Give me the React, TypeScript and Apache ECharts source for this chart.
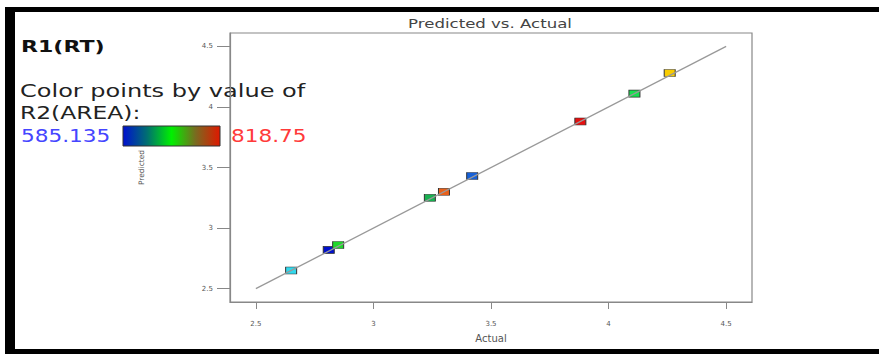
import React, { useEffect, useRef } from "react";
import * as echarts from "echarts";

const actual = [2.65, 2.81, 2.85, 3.24, 3.3, 3.42, 3.88, 4.11, 4.26];
const predicted = [2.65, 2.82, 2.86, 3.25, 3.3, 3.43, 3.88, 4.11, 4.28];
const pointColors = ["#33d8ec", "#0010cc", "#1ed82a", "#18b050", "#e8601a", "#1660d8", "#e61010", "#18e050", "#f8cc00"];
const tickValues = [2.5, 3, 3.5, 4, 4.5];
const fitLine = [[2.5, 2.5], [4.5, 4.5]];
const areaMin = "585.135";
const areaMax = "818.75";

export default function App() {
  const ref = useRef<HTMLDivElement>(null);
  useEffect(() => {
    document.body.style.margin = "0";
    const chart = echarts.init(ref.current!, null, { renderer: "svg" });
    const tickFont = { fontSize: 7, color: "#555", fontFamily: "DejaVu Sans" };
    chart.setOption({
      animation: false,
      backgroundColor: "#fff",
      grid: { left: 230, top: 33, width: 522, height: 269, show: true, borderColor: "#888", borderWidth: 1.2, containLabel: false },
      xAxis: {
        type: "value",
        min: 2.39,
        max: 4.61,
        name: "Actual",
        nameLocation: "middle",
        nameGap: 31,
        nameTextStyle: { fontSize: 10, color: "#555", fontFamily: "DejaVu Sans" },
        axisLine: { show: true, lineStyle: { color: "#888", width: 1.2 } },
        axisTick: { show: true, inside: false, length: 7, lineStyle: { color: "#888" }, customValues: tickValues },
        axisLabel: { ...tickFont, margin: 18, customValues: tickValues, formatter: (v: number) => String(v) },
        splitLine: { show: false },
      },
      yAxis: {
        type: "value",
        min: 2.39,
        max: 4.61,
        name: "Predicted",
        nameLocation: "middle",
        nameGap: 85,
        nameTextStyle: { fontSize: 7.5, color: "#555", fontFamily: "DejaVu Sans" },
        axisLine: { show: true, lineStyle: { color: "#888", width: 1.2 } },
        axisTick: { show: true, inside: false, length: 13, lineStyle: { color: "#888" }, customValues: tickValues },
        axisLabel: { ...tickFont, margin: 17, customValues: tickValues, formatter: (v: number) => String(v) },
        splitLine: { show: false },
      },
      series: [
        {
          type: "line",
          data: fitLine,
          symbol: "none",
          lineStyle: { color: "#999", width: 1.3 },
          silent: true,
        },
        {
          type: "scatter",
          symbol: "rect",
          symbolSize: [11, 7],
          itemStyle: { opacity: 1 },
          data: actual.map((a, i) => ({
            value: [a, predicted[i]],
            itemStyle: { color: pointColors[i], borderColor: "#333", borderWidth: 0.8, opacity: 1 },
          })),
        },
      ],
      graphic: [
        { type: "rect", shape: { x: 5, y: 7, width: 874, height: 5 }, style: { fill: "#000" } },
        { type: "rect", shape: { x: 5, y: 7, width: 10, height: 347 }, style: { fill: "#000" } },
        { type: "rect", shape: { x: 5, y: 349, width: 874, height: 5 }, style: { fill: "#000" } },
        {
          type: "text", x: 490, y: 24, scaleX: 1.38, originX: 0,
          style: { text: "Predicted vs. Actual", fontSize: 12, fill: "#444", fontFamily: "DejaVu Sans", textAlign: "center", textVerticalAlign: "middle" },
        },
        {
          type: "text", x: 21, y: 47, scaleX: 1.38,
          style: { text: "R1(RT)", fontSize: 16, fontWeight: "bold", fill: "#111", fontFamily: "DejaVu Sans", textVerticalAlign: "middle" },
        },
        {
          type: "text", x: 20, y: 91, scaleX: 1.335,
          style: { text: "Color points by value of", fontSize: 18, fill: "#222", fontFamily: "DejaVu Sans", textVerticalAlign: "middle" },
        },
        {
          type: "text", x: 20, y: 113, scaleX: 1.3,
          style: { text: "R2(AREA):", fontSize: 18, fill: "#222", fontFamily: "DejaVu Sans", textVerticalAlign: "middle" },
        },
        {
          type: "text", x: 21, y: 136, scaleX: 1.2,
          style: { text: areaMin, fontSize: 18, fill: "#4545ff", fontFamily: "DejaVu Sans", textVerticalAlign: "middle" },
        },
        {
          type: "rect",
          shape: { x: 123, y: 126, width: 97, height: 20 },
          style: {
            fill: new echarts.graphic.LinearGradient(0, 0, 1, 0, [
              { offset: 0, color: "#0010d0" },
              { offset: 0.25, color: "#007070" },
              { offset: 0.5, color: "#00f000" },
              { offset: 0.75, color: "#7a6a20" },
              { offset: 1, color: "#e01800" },
            ]),
            stroke: "#333",
            lineWidth: 1,
          },
        },
        {
          type: "text", x: 231, y: 136, scaleX: 1.2,
          style: { text: areaMax, fontSize: 18, fill: "#ff3a3a", fontFamily: "DejaVu Sans", textVerticalAlign: "middle" },
        },
      ],
    });
    return () => chart.dispose();
  }, []);
  return <div ref={ref} style={{ width: 879, height: 354 }} />;
}
